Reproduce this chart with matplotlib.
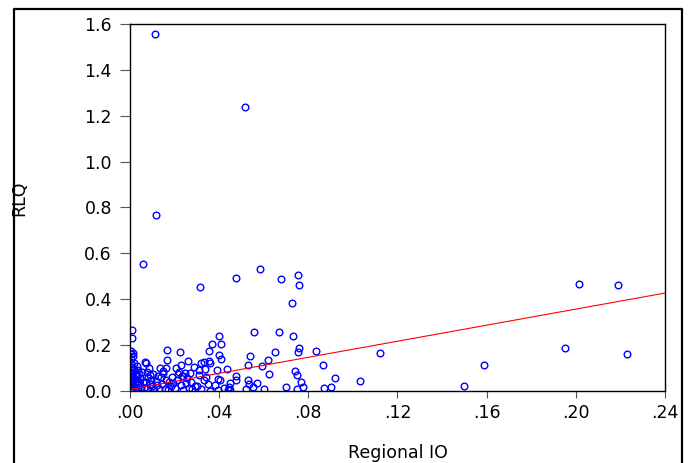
import matplotlib
matplotlib.use("Agg")
import matplotlib.pyplot as plt
from matplotlib.lines import Line2D
from matplotlib.ticker import FuncFormatter
import numpy as np

plt.rcParams['font.family'] = ['DejaVu Sans']

# scattered points (Regional IO, RLQ)
outer_x = [0.0112, 0.0516, 0.0117, 0.0058, 0.0314, 0.0476, 0.0583, 0.0677,
           0.0754, 0.0758, 0.0727, 0.1120, 0.1030, 0.1500, 0.1590, 0.1950,
           0.2230, 0.2014, 0.2190]
outer_y = [1.555, 1.237, 0.767, 0.553, 0.453, 0.492, 0.531, 0.488,
           0.505, 0.462, 0.383, 0.166, 0.044, 0.022, 0.113, 0.187,
           0.161, 0.466, 0.462]

mid_x = [0.0009, 0.0009, 0.0400, 0.0370, 0.0410, 0.0556, 0.0669, 0.0730,
         0.0759, 0.0754, 0.0834, 0.0650, 0.0354, 0.0166, 0.0224, 0.0400,
         0.0410, 0.0540, 0.0530, 0.0620, 0.0590, 0.0866, 0.0740, 0.0750,
         0.0624, 0.0435, 0.0390, 0.0920, 0.0767, 0.0776, 0.0750, 0.0870,
         0.0900, 0.0700, 0.0600, 0.0550, 0.0570, 0.0530, 0.0535, 0.0520,
         0.0476, 0.0476, 0.0450, 0.0445, 0.0448, 0.0395, 0.0402, 0.0395,
         0.0354, 0.0358, 0.0330, 0.0318, 0.0335, 0.0260, 0.0230, 0.0288,
         0.0310, 0.0270, 0.0245, 0.0240, 0.0166, 0.0162, 0.0150, 0.0067,
         0.0020, 0.0015, 0.0015]
mid_y = [0.265, 0.231, 0.240, 0.205, 0.205, 0.257, 0.257, 0.240,
         0.187, 0.170, 0.174, 0.170, 0.174, 0.178, 0.170, 0.157,
         0.139, 0.152, 0.113, 0.135, 0.109, 0.113, 0.087, 0.070,
         0.074, 0.096, 0.091, 0.057, 0.039, 0.017, 0.008, 0.013,
         0.017, 0.017, 0.009, 0.017, 0.035, 0.048, 0.030, 0.009,
         0.065, 0.048, 0.035, 0.017, 0.005, 0.052, 0.048, 0.004,
         0.130, 0.122, 0.126, 0.120, 0.096, 0.130, 0.113, 0.104,
         0.091, 0.078, 0.078, 0.065, 0.135, 0.100, 0.087, 0.126,
         0.122, 0.165, 0.152]

dense_x = [0.0005, 0.0005, 0.0006, 0.0005, 0.0007, 0.0006, 0.0005, 0.0008,
           0.0006, 0.0005, 0.0007, 0.0006, 0.0008, 0.0005, 0.0006, 0.0007,
           0.0005, 0.0006, 0.0008,
           0.0030, 0.0035, 0.0040, 0.0032, 0.0045, 0.0038, 0.0042, 0.0034,
           0.0050, 0.0036, 0.0048,
           0.0070, 0.0085, 0.0075, 0.0090, 0.0080, 0.0095, 0.0072, 0.0088,
           0.0100, 0.0078, 0.0110, 0.0092,
           0.0135, 0.0150, 0.0140, 0.0160, 0.0175, 0.0145, 0.0185, 0.0155,
           0.0170,
           0.0205, 0.0220, 0.0235, 0.0210, 0.0250, 0.0228, 0.0265, 0.0240,
           0.0275, 0.0290,
           0.0310, 0.0330, 0.0350, 0.0300, 0.0320, 0.0360, 0.0340, 0.0380,
           0.0420, 0.0440,
           0.0020, 0.0025, 0.0055, 0.0060, 0.0065, 0.0105, 0.0115, 0.0120,
           0.0125, 0.0130, 0.0018, 0.0022, 0.0028, 0.0012, 0.0015, 0.0190,
           0.0195, 0.0200, 0.0215, 0.0255, 0.0280]
dense_y = [0.175, 0.160, 0.140, 0.120, 0.105, 0.090, 0.080, 0.070,
           0.060, 0.050, 0.045, 0.040, 0.030, 0.025, 0.020, 0.015,
           0.010, 0.005, 0.000,
           0.110, 0.090, 0.075, 0.065, 0.055, 0.045, 0.035, 0.025,
           0.018, 0.010, 0.004,
           0.120, 0.100, 0.085, 0.070, 0.060, 0.050, 0.040, 0.030,
           0.020, 0.012, 0.006, 0.000,
           0.100, 0.080, 0.060, 0.050, 0.040, 0.030, 0.020, 0.010,
           0.003,
           0.100, 0.085, 0.065, 0.050, 0.035, 0.025, 0.015, 0.005,
           0.040, 0.020,
           0.070, 0.050, 0.030, 0.020, 0.010, 0.002, 0.060, 0.025,
           0.012, 0.003,
           0.095, 0.068, 0.082, 0.038, 0.015, 0.075, 0.045, 0.025,
           0.065, 0.008, 0.050, 0.030, 0.012, 0.085, 0.002, 0.060,
           0.035, 0.012, 0.075, 0.055, 0.008]

# fitted line
fit_intercept = 0.007
fit_slope = 1.75

x_ticks = [0.00, 0.04, 0.08, 0.12, 0.16, 0.20, 0.24]
y_ticks = [0.0, 0.2, 0.4, 0.6, 0.8, 1.0, 1.2, 1.4, 1.6]

xs = np.array(outer_x + mid_x + dense_x)
ys = np.array(outer_y + mid_y + dense_y)

fig = plt.figure(figsize=(6.91, 4.63), dpi=100)
ax = fig.add_axes([0.1881, 0.1555, 0.7743, 0.7927])

ax.plot(xs, ys, linestyle='none', marker='o', markersize=4.8,
        markerfacecolor='none', markeredgecolor='#0000ff', markeredgewidth=1.0)
lx = np.array([x_ticks[0], x_ticks[-1]])
ax.plot(lx, fit_intercept + fit_slope * lx, color='#ff0000', linewidth=0.8)

ax.set_xlim(x_ticks[0], x_ticks[-1])
ax.set_ylim(y_ticks[0], y_ticks[-1])
ax.set_xticks(x_ticks)
ax.set_yticks(y_ticks)
ax.xaxis.set_major_formatter(FuncFormatter(lambda v, p: ('%.2f' % v).lstrip('0')))
ax.yaxis.set_major_formatter(FuncFormatter(lambda v, p: '%.1f' % v))
ax.tick_params(axis='y', direction='out', length=7, width=0.8, pad=6,
               labelsize=12.5, color='#555555')
ax.tick_params(axis='x', direction='out', length=5, width=0.8, pad=4,
               labelsize=12.5, color='#555555')
for s in ax.spines.values():
    s.set_linewidth(1.0)

ax.set_ylabel('RLQ', fontsize=12.5)
ax.yaxis.set_label_coords(-0.19, 0.525)
ax.set_xlabel('Regional IO', fontsize=12.5)
ax.xaxis.set_label_coords(0.5, -0.145)

# outer frame
W, H = 691.0, 463.0
fl, fr, ft = 14 / W, 682 / W, 1 - 9 / H
fig.add_artist(Line2D([fl, fl, fr, fr], [-0.05, ft, ft, -0.05],
                      transform=fig.transFigure, color='black', linewidth=1.6))

fig.savefig('out.png', dpi=100)
